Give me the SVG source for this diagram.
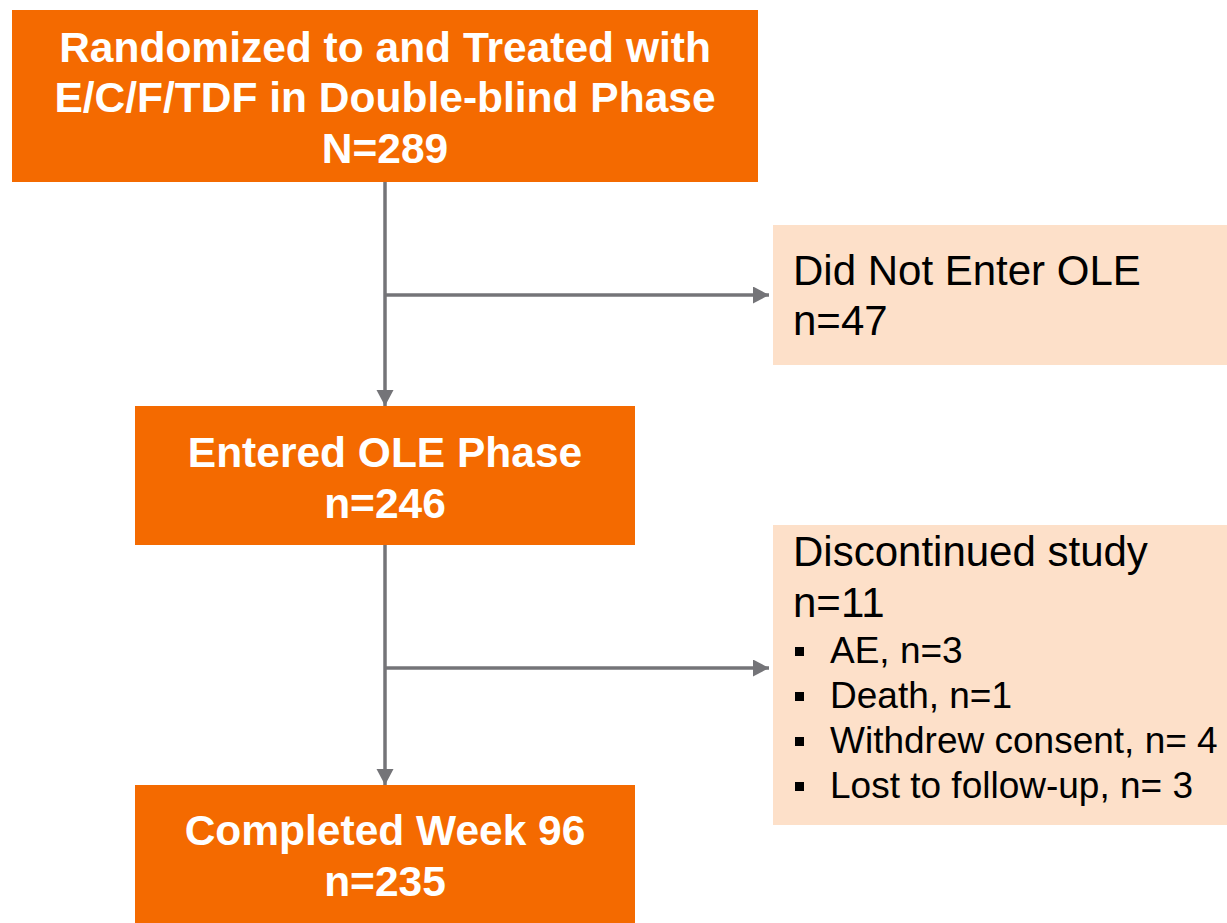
<svg xmlns="http://www.w3.org/2000/svg" width="1227" height="923" viewBox="0 0 1227 923">
<style>
.main{fill:#F46A00}
.side{fill:#FDE0C9}
.bt{font-family:"Liberation Sans",Arial,sans-serif;font-weight:bold;font-size:42.5px;fill:#ffffff;text-anchor:middle}
.st{font-family:"Liberation Sans",Arial,sans-serif;font-size:42px;fill:#000000}
.bl{font-family:"Liberation Sans",Arial,sans-serif;font-size:37px;fill:#000000}
.conn{stroke:#747478;stroke-width:3.5;fill:none;marker-end:url(#arr)}
.bul{fill:#000000}
</style>
<defs>
<marker id="arr" markerUnits="userSpaceOnUse" markerWidth="17" markerHeight="18" refX="16" refY="8.5" orient="auto">
<path d="M0,0 L16,8.5 L0,17 z" fill="#747478"/>
</marker>
</defs>
<rect width="1227" height="923" fill="#ffffff"/>
<g id="connectors">
<path class="conn" d="M385,182 V406"/>
<path class="conn" d="M385,295 H769"/>
<path class="conn" d="M385,545 V785"/>
<path class="conn" d="M385,668 H769"/>
</g>
<g id="randomized">
<rect class="main" x="12" y="10" width="746" height="172"/>
<text class="bt" x="385" y="62">Randomized to and Treated with</text>
<text class="bt" x="385" y="112">E/C/F/TDF in Double-blind Phase</text>
<text class="bt" x="385" y="163">N=289</text>
</g>
<g id="entered">
<rect class="main" x="135" y="406" width="500" height="139"/>
<text class="bt" x="385" y="467">Entered OLE Phase</text>
<text class="bt" x="385" y="518">n=246</text>
</g>
<g id="completed">
<rect class="main" x="135" y="785" width="500" height="138"/>
<text class="bt" x="385" y="845">Completed Week 96</text>
<text class="bt" x="385" y="896">n=235</text>
</g>
<g id="notenter">
<rect class="side" x="773" y="225" width="454" height="140"/>
<text class="st" x="793" y="285">Did Not Enter OLE</text>
<text class="st" x="793" y="335">n=47</text>
</g>
<g id="discontinued">
<rect class="side" x="773" y="525" width="454" height="300"/>
<text class="st" x="793" y="566">Discontinued study</text>
<text class="st" x="793" y="617">n=11</text>
<rect class="bul" x="795" y="647" width="9" height="9"/>
<text class="bl" x="830" y="663">AE, n=3</text>
<rect class="bul" x="795" y="692" width="9" height="9"/>
<text class="bl" x="830" y="708">Death, n=1</text>
<rect class="bul" x="795" y="737" width="9" height="9"/>
<text class="bl" x="830" y="753">Withdrew consent, n= 4</text>
<rect class="bul" x="795" y="782" width="9" height="9"/>
<text class="bl" x="830" y="798">Lost to follow-up, n= 3</text>
</g>
</svg>
